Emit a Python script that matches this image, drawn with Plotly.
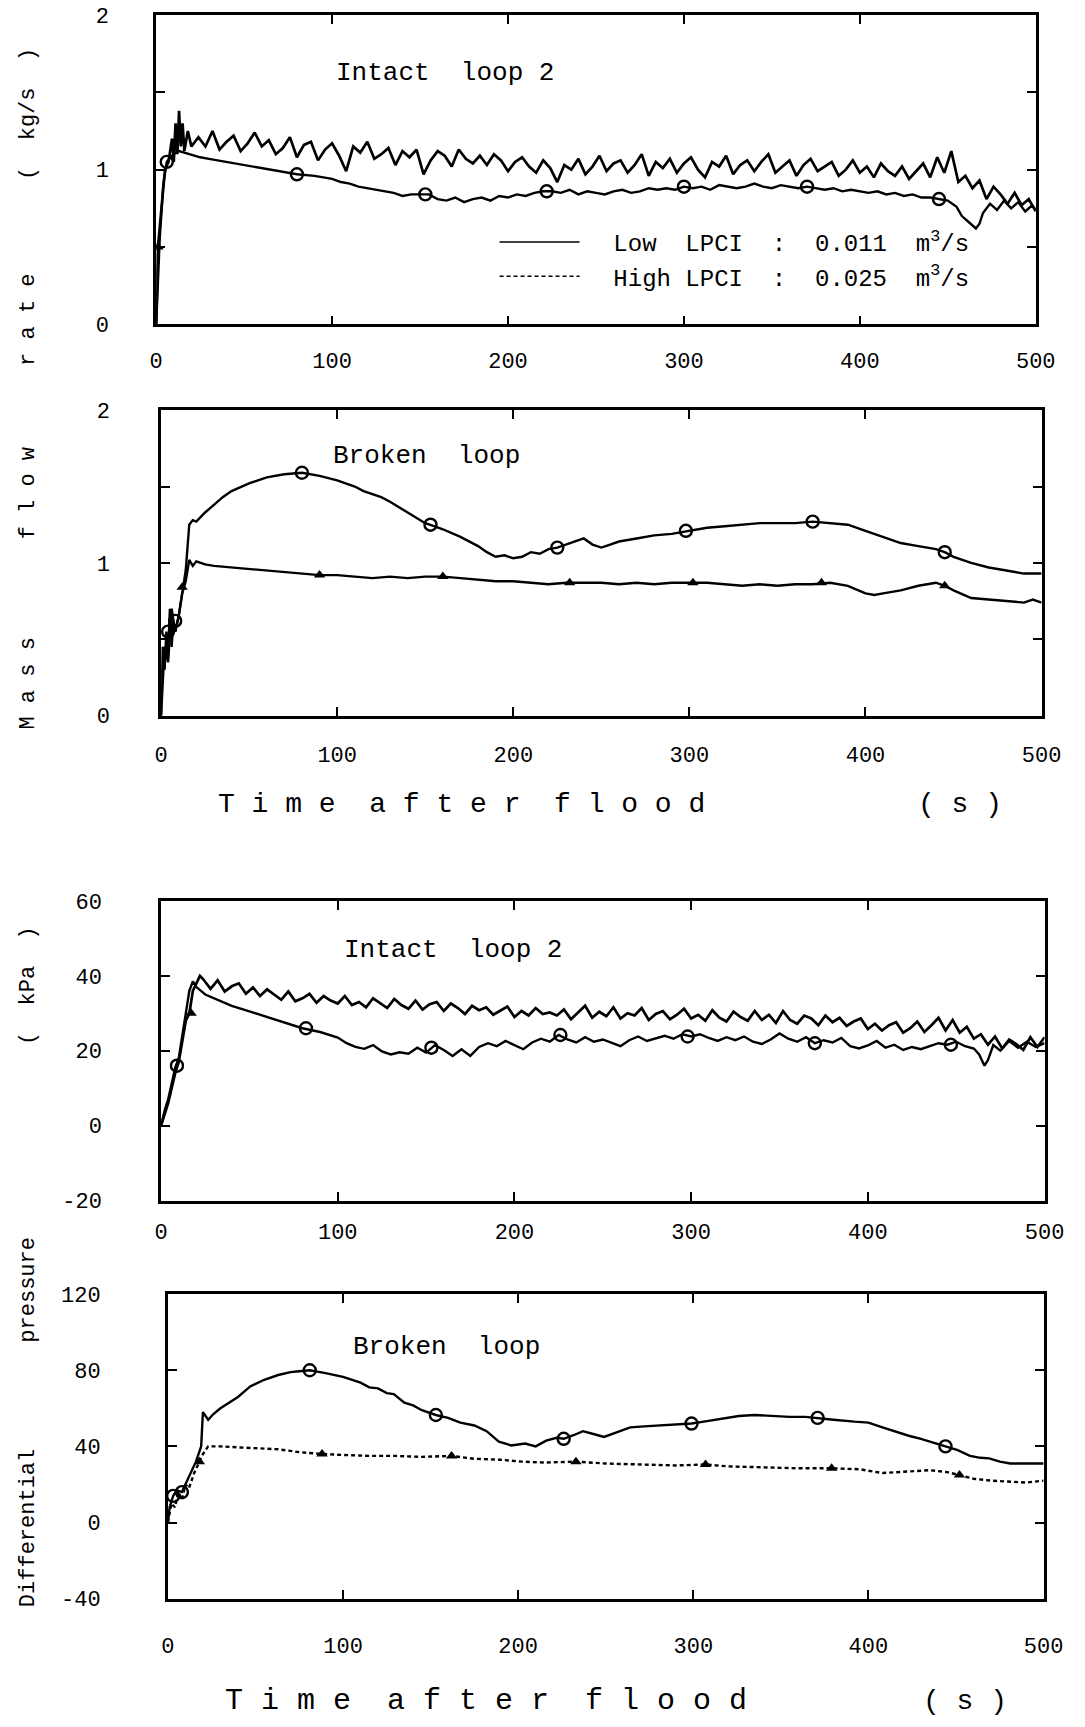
import plotly.graph_objects as go

FONT = "Liberation Mono"

# ---------------- Panel 1: Mass flow rate, Intact loop 2 ----------------
p1_low_t = [0, 2, 4, 6, 8, 10, 13, 16, 20, 25,
            30, 40, 50, 60, 70, 80, 90, 100, 105, 110,
            115, 120, 125, 130, 135, 140, 145, 150, 155, 160,
            165, 170, 175, 180, 185, 190, 195, 200, 205, 210,
            215, 220, 225, 230, 235, 240, 245, 250, 255, 260,
            265, 270, 275, 280, 285, 290, 295, 300, 305, 310,
            315, 320, 325, 330, 335, 340, 345, 350, 355, 360,
            365, 370, 375, 380, 385, 390, 395, 400, 405, 410,
            415, 420, 425, 430, 435, 440, 445, 450, 455, 458,
            462, 466, 468, 470, 474, 478, 482, 486, 490, 494,
            498, 500]
p1_low_v = [0.00, 0.55, 0.90, 1.05, 1.08, 1.10, 1.12, 1.11, 1.10, 1.08,
            1.07, 1.05, 1.03, 1.01, 0.99, 0.97, 0.96, 0.94, 0.92, 0.91,
            0.89, 0.88, 0.87, 0.86, 0.85, 0.83, 0.84, 0.84, 0.84, 0.81,
            0.80, 0.82, 0.79, 0.81, 0.82, 0.80, 0.83, 0.82, 0.84, 0.83,
            0.85, 0.86, 0.86, 0.85, 0.87, 0.84, 0.86, 0.85, 0.84, 0.86,
            0.87, 0.85, 0.86, 0.88, 0.87, 0.88, 0.87, 0.89, 0.88, 0.89,
            0.87, 0.90, 0.89, 0.88, 0.89, 0.91, 0.89, 0.88, 0.90, 0.89,
            0.88, 0.89, 0.88, 0.87, 0.88, 0.86, 0.87, 0.86, 0.85, 0.86,
            0.84, 0.85, 0.83, 0.84, 0.82, 0.82, 0.81, 0.80, 0.76, 0.70,
            0.66, 0.62, 0.65, 0.72, 0.78, 0.74, 0.80, 0.75, 0.79, 0.73,
            0.77, 0.74]
p1_low_mk_t = [6, 80, 153, 222, 300, 370, 445]
p1_low_mk_v = [1.05, 0.97, 0.84, 0.86, 0.89, 0.89, 0.81]

p1_high_t = [0, 1, 3, 5, 7, 9, 10, 11, 12, 13, 14, 15, 16, 18, 20,
             24, 28, 32, 36, 40, 44, 48, 52, 56, 60,
             64, 68, 72, 76, 80, 84, 88, 92, 96, 100,
             104, 108, 112, 116, 120, 124, 128, 132, 136, 140,
             144, 148, 152, 156, 160, 164, 168, 172, 176, 180,
             184, 188, 192, 196, 200, 204, 208, 212, 216, 220,
             224, 228, 232, 236, 240, 244, 248, 252, 256, 260,
             264, 268, 272, 276, 280, 284, 288, 292, 296, 300,
             304, 308, 312, 316, 320, 324, 328, 332, 336, 340,
             344, 348, 352, 356, 360, 364, 368, 372, 376, 380,
             384, 388, 392, 396, 400, 404, 408, 412, 416, 420,
             424, 428, 432, 436, 440, 444, 448, 452, 456, 460,
             464, 468, 472, 476, 480, 484, 488, 492, 496, 500]
p1_high_v = [0.00, 0.50, 0.75, 1.00, 1.05, 1.20, 1.05, 1.30, 1.10, 1.38, 1.15, 1.30, 1.12, 1.25, 1.15,
             1.21, 1.15, 1.25, 1.13, 1.18, 1.22, 1.12, 1.17, 1.24, 1.15,
             1.19, 1.10, 1.14, 1.21, 1.08, 1.16, 1.18, 1.06, 1.13, 1.17,
             1.09, 0.99, 1.15, 1.11, 1.18, 1.07, 1.10, 1.14, 1.03, 1.12,
             1.08, 1.13, 0.97, 1.06, 1.12, 1.09, 1.02, 1.13, 1.07, 1.04,
             1.09, 1.03, 1.10, 1.06, 0.99, 1.05, 1.08, 1.02, 0.98, 1.06,
             1.01, 0.92, 1.03, 1.00, 1.07, 0.97, 1.02, 1.09, 0.99, 1.04,
             1.06, 0.98, 1.03, 1.10, 0.96, 1.05, 1.01, 1.07, 0.98, 1.04,
             1.08, 1.00, 0.95, 1.05, 1.02, 1.09, 0.97, 1.03, 1.06, 0.99,
             1.05, 1.10, 0.98, 1.02, 1.06, 0.96, 1.03, 1.07, 0.99, 1.02,
             1.05, 0.96, 1.00, 1.06, 0.98, 1.02, 0.95, 1.04, 0.99, 0.96,
             1.02, 0.94, 0.99, 1.04, 0.95, 1.08, 0.98, 1.12, 0.92, 0.96,
             0.88, 0.93, 0.81, 0.89, 0.84, 0.78, 0.85, 0.77, 0.81, 0.73]
p1_high_mk_t = [1]
p1_high_mk_v = [0.50]

# ---------------- Panel 2: Mass flow rate, Broken loop ----------------
p2_low_t = [0, 2, 4, 6, 8, 10, 12, 14, 16, 18,
            20, 25, 30, 35, 40, 50, 60, 70, 80, 90,
            100, 110, 115, 120, 125, 130, 140, 150, 155, 160,
            170, 180, 185, 190, 195, 200, 205, 210, 215, 220,
            225, 230, 235, 240, 245, 250, 255, 260, 270, 280,
            290, 300, 310, 320, 330, 340, 350, 360, 370, 380,
            390, 400, 410, 420, 430, 440, 445, 450, 460, 470,
            480, 490, 500]
p2_low_v = [0.00, 0.45, 0.35, 0.70, 0.55, 0.65, 0.80, 0.95, 1.25, 1.28,
            1.27, 1.33, 1.38, 1.43, 1.47, 1.52, 1.56, 1.58, 1.59, 1.57,
            1.54, 1.50, 1.47, 1.45, 1.43, 1.40, 1.33, 1.26, 1.24, 1.22,
            1.17, 1.11, 1.07, 1.04, 1.05, 1.03, 1.04, 1.07, 1.06, 1.09,
            1.10, 1.12, 1.14, 1.16, 1.12, 1.10, 1.12, 1.14, 1.16, 1.18,
            1.19, 1.21, 1.23, 1.24, 1.25, 1.26, 1.26, 1.26, 1.27, 1.26,
            1.25, 1.21, 1.17, 1.13, 1.11, 1.09, 1.07, 1.04, 1.00, 0.97,
            0.95, 0.93, 0.93]
p2_low_mk_t = [4, 8, 80, 153, 225, 298, 370, 445]
p2_low_mk_v = [0.55, 0.62, 1.59, 1.25, 1.10, 1.21, 1.27, 1.07]

p2_high_t = [0, 1, 2, 3, 4, 5, 6, 7, 8, 10,
             12, 14, 16, 18, 20, 25, 30, 40, 50, 60,
             70, 80, 90, 100, 110, 120, 130, 140, 150, 160,
             170, 180, 190, 200, 210, 220, 230, 240, 250, 260,
             270, 280, 290, 300, 310, 320, 330, 340, 350, 360,
             370, 380, 390, 400, 405, 410, 420, 430, 440, 445,
             450, 460, 470, 480, 490, 495, 500]
p2_high_v = [0.00, 0.45, 0.30, 0.55, 0.40, 0.70, 0.45, 0.62, 0.55, 0.65,
             0.80, 0.88, 1.02, 0.98, 1.01, 0.99, 0.98, 0.97, 0.96, 0.95,
             0.94, 0.93, 0.92, 0.92, 0.91, 0.90, 0.91, 0.90, 0.91, 0.91,
             0.90, 0.89, 0.88, 0.88, 0.87, 0.86, 0.87, 0.87, 0.87, 0.86,
             0.87, 0.86, 0.87, 0.87, 0.87, 0.86, 0.85, 0.86, 0.85, 0.86,
             0.86, 0.87, 0.85, 0.80, 0.79, 0.80, 0.82, 0.85, 0.87, 0.85,
             0.82, 0.77, 0.76, 0.75, 0.74, 0.76, 0.74]
p2_high_mk_t = [12, 90, 160, 232, 302, 375, 445]
p2_high_mk_v = [0.84, 0.92, 0.91, 0.87, 0.87, 0.87, 0.85]

# ---------------- Panel 3: Differential pressure, Intact loop 2 ----------------
p3_low_t = [0, 2, 4, 6, 8, 10, 12, 14, 16, 18,
            20, 25, 30, 40, 50, 60, 70, 80, 90, 100,
            105, 110, 115, 120, 125, 130, 135, 140, 145, 150,
            155, 160, 165, 170, 175, 180, 185, 190, 195, 200,
            205, 210, 215, 220, 225, 230, 235, 240, 245, 250,
            255, 260, 265, 270, 275, 280, 285, 290, 295, 300,
            305, 310, 315, 320, 325, 330, 335, 340, 345, 350,
            355, 360, 365, 370, 375, 380, 385, 390, 395, 400,
            405, 410, 415, 420, 425, 430, 435, 440, 445, 450,
            455, 460, 463, 466, 468, 471, 475, 480, 485, 490,
            495, 500]
p3_low_v = [0.0, 4.0, 7.0, 11.0, 15.5, 18.0, 24.0, 31.0, 36.0, 38.5,
            37.0, 35.0, 34.0, 32.0, 30.5, 29.0, 27.5, 26.0, 25.0, 23.5,
            22.0, 21.0, 20.5, 21.5, 19.8, 19.0, 19.6, 19.2, 20.8, 19.5,
            21.5, 20.2, 18.6, 20.4, 18.6, 21.0, 22.0, 21.2, 22.6, 21.4,
            20.4, 22.2, 23.2, 22.4, 24.2, 23.0, 22.2, 23.6, 22.4, 23.0,
            22.0, 21.2, 22.8, 23.8, 22.6, 23.4, 24.0, 23.2, 24.4, 23.8,
            24.4, 23.4, 22.6, 23.6, 22.8, 23.8, 22.4, 21.8, 23.0, 24.6,
            23.2, 22.4, 23.6, 22.0, 22.8, 22.2, 23.4, 21.2, 20.6, 21.4,
            22.6, 20.8, 21.6, 20.2, 21.0, 20.4, 21.2, 22.0, 21.6, 22.4,
            21.2, 20.6, 19.0, 16.0, 17.5, 21.5, 20.0, 22.6, 20.8, 22.4,
            21.0, 22.0]
p3_low_mk_t = [9, 82, 153, 226, 298, 370, 447]
p3_low_mk_v = [16.0, 26.0, 20.8, 24.2, 23.8, 22.0, 21.6]

p3_high_t = [0, 2, 4, 6, 8, 10, 12, 14, 16, 18, 20, 22,
             24, 28, 32, 36, 40, 44, 48, 52, 56, 60,
             64, 68, 72, 76, 80, 84, 88, 92, 96, 100,
             104, 108, 112, 116, 120, 124, 128, 132, 136, 140,
             144, 148, 152, 156, 160, 164, 168, 172, 176, 180,
             184, 188, 192, 196, 200, 204, 208, 212, 216, 220,
             224, 228, 232, 236, 240, 244, 248, 252, 256, 260,
             264, 268, 272, 276, 280, 284, 288, 292, 296, 300,
             304, 308, 312, 316, 320, 324, 328, 332, 336, 340,
             344, 348, 352, 356, 360, 364, 368, 372, 376, 380,
             384, 388, 392, 396, 400, 404, 408, 412, 416, 420,
             424, 428, 432, 436, 440, 444, 448, 452, 456, 460,
             464, 468, 472, 476, 480, 484, 488, 492, 496, 500]
p3_high_v = [0.0, 3.0, 6.0, 10.0, 14.0, 17.0, 22.0, 28.0, 30.0, 36.0, 38.0, 40.0,
             39.0, 36.5, 38.8, 35.8, 37.2, 38.0, 35.2, 36.9, 34.6, 36.4,
             35.0, 33.6, 35.8, 33.2, 34.0, 35.2, 32.8, 34.6, 33.4, 32.6,
             34.6, 32.2, 33.0, 31.6, 34.0, 32.6, 31.4, 33.8, 32.2, 31.2,
             33.4, 31.0, 32.4, 33.0, 30.6, 32.6, 31.4, 29.8, 32.0, 30.8,
             31.6, 29.6, 30.8, 31.8, 29.0, 30.6, 29.4, 31.4, 29.8, 30.2,
             29.4, 31.0, 28.4, 30.2, 32.0, 28.8, 30.4, 29.2, 31.6, 28.6,
             30.0, 29.4, 31.4, 28.2, 29.8, 30.6, 28.4, 29.6, 31.2, 28.6,
             29.6, 28.0, 30.8, 28.8, 27.8, 30.4, 29.0, 28.0, 30.6, 28.2,
             29.6, 27.4, 30.6, 28.2, 27.2, 29.4, 28.6, 26.8, 29.4, 27.6,
             28.8, 26.6, 27.8, 28.6, 25.8, 27.2, 25.4, 26.8, 27.6, 24.8,
             26.0, 27.8, 25.0, 26.8, 28.8, 25.4, 28.2, 24.8, 26.4, 23.2,
             24.4, 21.6, 23.8, 20.6, 23.0, 21.8, 20.2, 23.6, 21.0, 23.6]
p3_high_mk_t = [17]
p3_high_mk_v = [30.0]

# ---------------- Panel 4: Differential pressure, Broken loop ----------------
p4_low_t = [0, 1, 3, 5, 8, 10, 13, 16, 19, 20,
            23, 26, 30, 35, 40, 47, 55, 63, 70, 75,
            81, 90, 100, 110, 115, 120, 125, 129, 135, 140,
            145, 153, 160, 167, 175, 182, 189, 196, 204, 210,
            216, 222, 226, 232, 237, 243, 249, 255, 264, 272,
            280, 290, 299, 306, 315, 326, 335, 345, 355, 364,
            371, 380, 392, 400, 408, 416, 423, 430, 437, 444,
            451, 458, 464, 469, 475, 481, 488, 494, 500]
p4_low_v = [0.0, 8.0, 14.0, 17.0, 16.0, 20.0, 26.0, 32.0, 40.0, 58.0,
            54.0, 57.0, 60.0, 63.0, 66.0, 71.5, 75.0, 77.5, 79.0, 79.5,
            80.0, 78.5, 76.5, 73.5, 71.0, 70.5, 68.0, 67.5, 63.0, 61.5,
            59.0, 56.5, 55.0, 52.5, 51.0, 48.0, 42.5, 40.5, 41.5, 40.0,
            43.0, 44.5, 44.0, 46.0, 48.0, 46.5, 45.0, 47.0, 50.0, 50.5,
            51.0, 51.5, 52.0, 53.0, 54.5, 56.0, 56.5, 56.0, 55.5, 55.5,
            55.0, 54.0, 53.0, 52.5, 50.0, 47.5, 45.6, 44.0, 42.0, 40.0,
            38.0, 35.0, 34.0, 33.7, 32.0, 31.0, 31.0, 31.0, 31.0]
p4_low_mk_t = [3, 8, 81, 153, 226, 299, 371, 444]
p4_low_mk_v = [14.0, 16.0, 80.0, 56.5, 44.0, 52.0, 55.0, 40.0]

p4_high_t = [0, 2, 4, 6, 8, 10, 12, 15, 18, 20,
             23, 30, 40, 50, 63, 75, 88, 100, 115, 130,
             145, 162, 175, 190, 202, 215, 233, 250, 270, 290,
             307, 320, 340, 360, 379, 395, 408, 420, 435, 445,
             452, 460, 470, 480, 490, 500]
p4_high_v = [0.0, 10.0, 8.0, 16.0, 12.0, 20.0, 18.0, 26.0, 32.0, 36.0,
             40.0, 40.0, 39.5, 39.0, 38.5, 37.0, 36.0, 35.5, 35.0, 35.0,
             34.5, 35.0, 33.5, 33.0, 32.0, 31.5, 32.0, 31.0, 30.5, 30.0,
             30.5, 29.5, 29.0, 28.5, 28.5, 28.0, 26.0, 26.5, 27.5, 26.5,
             25.0, 23.0, 22.0, 21.5, 21.0, 22.0]
p4_high_mk_t = [18, 88, 162, 233, 307, 379, 452]
p4_high_mk_v = [32.0, 36.0, 35.0, 32.0, 30.5, 28.5, 25.0]

x_ticks = [0, 100, 200, 300, 400, 500]
y_ticks_flow = [0, 0.5, 1, 1.5, 2]
y_text_flow = ["0", "", "1", "", "2"]
y_ticks_p3 = [-20, 0, 20, 40, 60]
y_ticks_p4 = [-40, 0, 40, 80, 120]

NB = "\u00a0"
legend_low = NB * 2 + "Low" + NB * 2 + "LPCI" + NB * 2 + ":" + NB * 2 + "0.011" + NB * 2 + "m<sup>3</sup>/s"
legend_high = NB * 2 + "High" + NB + "LPCI" + NB * 2 + ":" + NB * 2 + "0.025" + NB * 2 + "m<sup>3</sup>/s"

W, H = 1085, 1727
# panel frames in pixels: left, right, top, bottom
frames = [(153, 1055, 5, 319), (158, 1061, 406, 716),
          (158, 1064, 904, 1208), (165, 1063, 1303, 1612)]

fig = go.Figure()

def add_panel(n, low_t, low_v, lmk_t, lmk_v, high_t, high_v, hmk_t, hmk_v,
              high_dash="solid", high_w=2.0):
    xa = "x" if n == 1 else f"x{n}"
    ya = "y" if n == 1 else f"y{n}"
    fig.add_trace(go.Scatter(x=high_t, y=high_v, mode="lines", xaxis=xa, yaxis=ya,
                             line=dict(color="black", width=high_w, dash=high_dash),
                             showlegend=False, hoverinfo="skip"))
    fig.add_trace(go.Scatter(x=low_t, y=low_v, mode="lines", xaxis=xa, yaxis=ya,
                             line=dict(color="black", width=2.4),
                             showlegend=False, hoverinfo="skip"))
    fig.add_trace(go.Scatter(x=lmk_t, y=lmk_v, mode="markers", xaxis=xa, yaxis=ya,
                             marker=dict(symbol="circle-open", size=12, color="black",
                                         line=dict(width=2.4, color="black")),
                             showlegend=False, hoverinfo="skip"))
    fig.add_trace(go.Scatter(x=hmk_t, y=hmk_v, mode="markers", xaxis=xa, yaxis=ya,
                             marker=dict(symbol="triangle-up", size=10, color="black"),
                             showlegend=False, hoverinfo="skip"))

add_panel(1, p1_low_t, p1_low_v, p1_low_mk_t, p1_low_mk_v,
          p1_high_t, p1_high_v, p1_high_mk_t, p1_high_mk_v, high_w=2.7)
add_panel(2, p2_low_t, p2_low_v, p2_low_mk_t, p2_low_mk_v,
          p2_high_t, p2_high_v, p2_high_mk_t, p2_high_mk_v, high_w=2.4)
add_panel(3, p3_low_t, p3_low_v, p3_low_mk_t, p3_low_mk_v,
          p3_high_t, p3_high_v, p3_high_mk_t, p3_high_mk_v, high_w=2.7)
add_panel(4, p4_low_t, p4_low_v, p4_low_mk_t, p4_low_mk_v,
          p4_high_t, p4_high_v, p4_high_mk_t, p4_high_mk_v,
          high_dash="4px,3px", high_w=2.4)

# legend entries (panel 1)
fig.add_trace(go.Scatter(x=[None], y=[None], mode="lines", name=legend_low,
                         line=dict(color="black", width=1.6), hoverinfo="skip"))
fig.add_trace(go.Scatter(x=[None], y=[None], mode="lines", name=legend_high,
                         line=dict(color="black", width=1.6, dash="4px,3px"), hoverinfo="skip"))

y_ranges = [[0, 2], [0, 2], [-20, 60], [-40, 120]]
y_tvals = [y_ticks_flow, y_ticks_flow, y_ticks_p3, y_ticks_p4]
y_ttext = [y_text_flow, y_text_flow, [str(v) for v in y_ticks_p3], [str(v) for v in y_ticks_p4]]
y_standoff = [40, 44, 52, 60]
x_standoff = [14, 17, 9, 25]

layout = dict(width=W, height=H, margin=dict(l=0, r=0, t=0, b=0),
              plot_bgcolor="white", paper_bgcolor="white",
              font=dict(family=FONT, color="black", size=22),
              showlegend=True,
              legend=dict(x=500 / W, y=1 - 213 / H, xanchor="left", yanchor="top",
                          bgcolor="rgba(0,0,0,0)", borderwidth=0,
                          font=dict(family=FONT, size=24, color="black"),
                          itemwidth=80, tracegroupgap=0, traceorder="normal"))

for i, (l, r, t, b) in enumerate(frames):
    n = i + 1
    xk = "xaxis" if n == 1 else f"xaxis{n}"
    yk = "yaxis" if n == 1 else f"yaxis{n}"
    xa = "x" if n == 1 else f"x{n}"
    ya = "y" if n == 1 else f"y{n}"
    layout[xk] = dict(domain=[l / W, r / W], anchor=ya, range=[0, 500],
                      tickmode="array", tickvals=x_ticks, ticks="inside", ticklen=9,
                      tickwidth=2, tickcolor="black", showline=True, linewidth=2.6,
                      linecolor="black", mirror="ticks", showgrid=False, zeroline=False,
                      ticklabelstandoff=x_standoff[i],
                      tickfont=dict(family=FONT, size=22, color="black"))
    layout[yk] = dict(domain=[1 - b / H, 1 - t / H], anchor=xa, range=y_ranges[i],
                      tickmode="array", tickvals=y_tvals[i], ticktext=y_ttext[i],
                      ticks="inside", ticklen=9, tickwidth=2, tickcolor="black",
                      showline=True, linewidth=2.6, linecolor="black", mirror="ticks",
                      showgrid=False, zeroline=False, ticklabelstandoff=y_standoff[i],
                      tickfont=dict(family=FONT, size=22, color="black"))

fig.update_layout(**layout)

def ann(text, px, py, size, angle=0):
    fig.add_annotation(text=text, x=px / W, y=1 - py / H, xref="paper", yref="paper",
                       showarrow=False, textangle=angle, xanchor="center", yanchor="middle",
                       font=dict(family=FONT, size=size, color="black"))

# panel titles
ann("Intact  loop 2", 449, 64, 26)
ann("Broken  loop", 430, 453, 26)
ann("Intact  loop 2", 457, 954, 26)
ann("Broken  loop", 451, 1357, 26)

# y-axis titles (rotated)
ann("M a s s", 22, 683, 22, -90)
ann("f l o w", 22, 490, 22, -90)
ann("r a t e", 22, 314, 22, -90)
ann("(  kg/s  )", 22, 105, 22, -90)
ann("Differential", 22, 1540, 22, -90)
ann("pressure", 22, 1298, 22, -90)
ann("(  kPa  )", 22, 990, 22, -90)

# x-axis titles
ann("T i m e  a f t e r  f l o o d", 466, 806, 28)
ann("( s )", 977, 806, 28)
ann("T i m e  a f t e r  f l o o d", 491, 1716, 30)
ann("( s )", 982, 1716, 28)

fig.write_html("out.html",
               config={"displayModeBar": False},
               post_script="document.documentElement.style.margin='0';"
                           "document.body.style.margin='0';"
                           "document.body.style.overflow='hidden';")
